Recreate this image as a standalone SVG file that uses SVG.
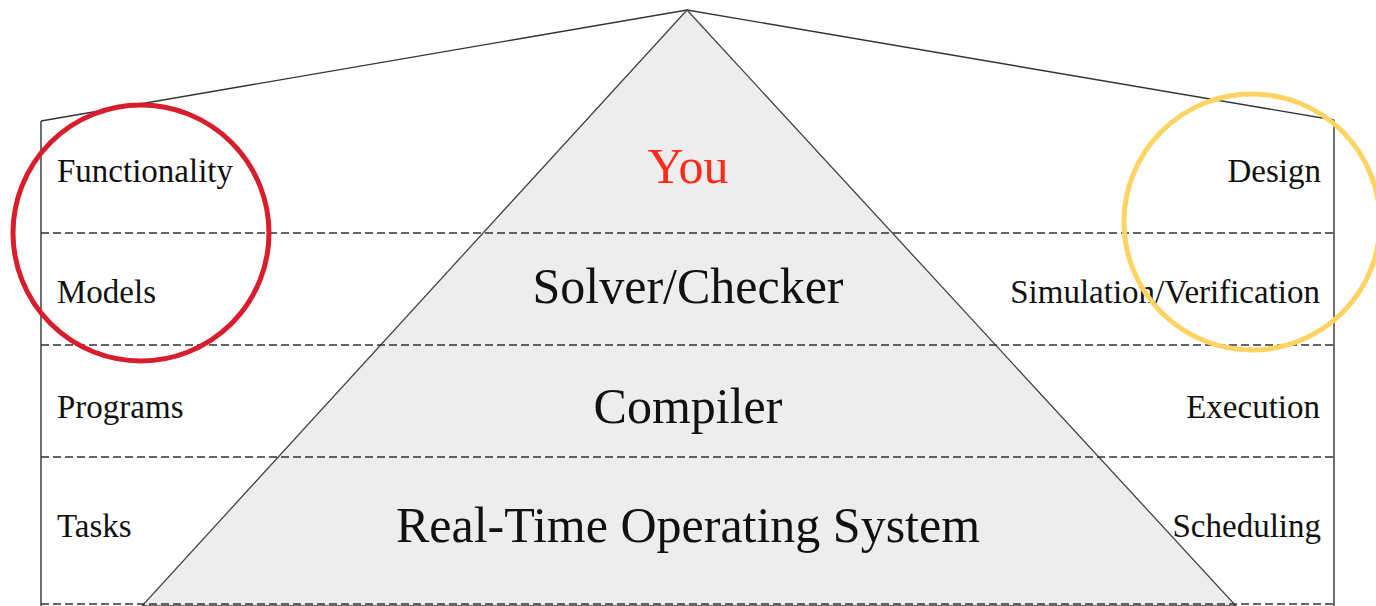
<svg xmlns="http://www.w3.org/2000/svg" width="1376" height="606" viewBox="0 0 1376 606">
<style>
.lbl{font-family:"Liberation Serif","Times New Roman",serif;font-size:33px;fill:#111}
.big{font-family:"Liberation Serif","Times New Roman",serif;font-size:50px;fill:#111;text-anchor:middle}
.dash{stroke:#333;stroke-width:1.3;stroke-dasharray:8 4;fill:none}
.edge{stroke:#333;stroke-width:1.4;fill:none}
</style>
<rect width="1376" height="606" fill="#fff"/>
<g id="roof">
<polyline class="edge" points="41,121 687,10 1334,120"/>
<line class="edge" x1="41" y1="121" x2="41" y2="606" stroke-width="2"/>
<line class="edge" x1="1334" y1="120" x2="1334" y2="606" stroke-width="2"/>
</g>
<g id="pyramid">
<polygon points="687,10 142,606 1236,606" fill="#ededed" stroke="#444" stroke-width="1.3"/>
</g>
<g id="layers">
<line class="dash" x1="41" y1="233" x2="1334" y2="233"/>
<line class="dash" x1="41" y1="345" x2="1334" y2="345"/>
<line class="dash" x1="41" y1="457" x2="1334" y2="457"/>
<line class="dash" x1="41" y1="604" x2="1334" y2="604"/>
</g>
<g id="left-labels">
<text class="lbl" x="57" y="182">Functionality</text>
<text class="lbl" x="57" y="303">Models</text>
<text class="lbl" x="57" y="418">Programs</text>
<text class="lbl" x="57" y="537">Tasks</text>
</g>
<g id="right-labels" text-anchor="end">
<text class="lbl" x="1321" y="182">Design</text>
<text class="lbl" x="1320" y="303">Simulation/Verification</text>
<text class="lbl" x="1320" y="418">Execution</text>
<text class="lbl" x="1321" y="537">Scheduling</text>
</g>
<g id="center-labels">
<text class="big" x="688" y="183" style="fill:#ff2a1a">You</text>
<text class="big" x="688" y="303">Solver/Checker</text>
<text class="big" x="688" y="423">Compiler</text>
<text class="big" x="688" y="542">Real-Time Operating System</text>
</g>
<g id="highlights" fill="none" stroke-width="5">
<circle id="red-circle" cx="141" cy="233" r="128" stroke="#d81e2c"/>
<circle id="yellow-circle" cx="1252" cy="222" r="128" stroke="#fdd463"/>
</g>
</svg>
